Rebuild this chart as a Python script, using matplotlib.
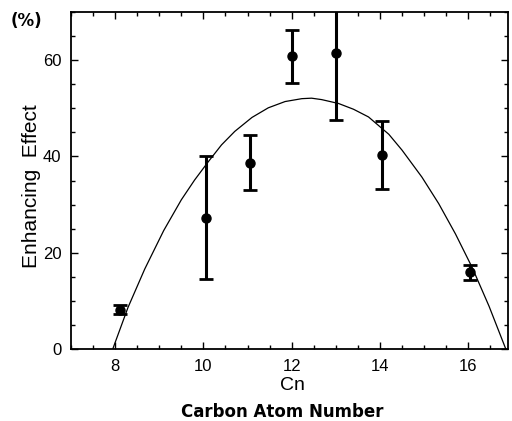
import numpy as np
import matplotlib
matplotlib.use('Agg')
import matplotlib.pyplot as plt
from matplotlib.ticker import MultipleLocator

# Pontos medidos (Cn, efeito %, erro)
carbonos = [8.1, 10.05, 11.05, 12.0, 13.0, 14.05, 16.05]
efeito = [8.2, 27.3, 38.7, 60.8, 61.4, 40.3, 15.9]
erro = [0.9, 12.7, 5.7, 5.5, 13.8, 7.0, 1.6]

# Curva ajustada
curva_x = [7.95, 8.29, 8.67, 9.1, 9.5, 9.8, 10.11, 10.41, 10.71, 11.1, 11.47, 11.85,
           12.23, 12.45, 12.68, 13.06, 13.4, 13.74, 14.2, 14.5, 14.95, 15.33,
           15.71, 16.09, 16.47, 16.85]
curva_y = [0.1, 8.6, 16.6, 24.6, 31.0, 35.1, 38.9, 42.4, 45.2, 48.1, 50.1, 51.4,
           52.0, 52.1, 51.8, 51.0, 49.8, 48.2, 44.6, 41.3, 35.7, 30.2,
           23.9, 16.9, 8.9, 0.0]

xticks = [8, 10, 12, 14, 16]
yticks = [0, 20, 40, 60]

fig = plt.figure(figsize=(5.12, 4.21), dpi=100)
ax = fig.add_axes([71/512, 72/421, 437/512, 337/421])

ax.plot(curva_x, curva_y, color='black', lw=0.9)
ax.errorbar(carbonos, efeito, yerr=erro, fmt='o', color='black', ms=6.5,
            elinewidth=2.2, capsize=5, capthick=2.0)

ax.set_xlim(7, 16.9)
ax.set_ylim(0, 70)
ax.set_xticks(xticks)
ax.set_yticks(yticks)
ax.xaxis.set_minor_locator(MultipleLocator(0.5))
ax.yaxis.set_minor_locator(MultipleLocator(5))
ax.tick_params(which='both', direction='in', top=True, right=True,
               labelsize=12, width=1.0)
ax.tick_params(which='major', length=5, pad=7)
ax.tick_params(which='minor', length=3)
for lab in ax.get_xticklabels() + ax.get_yticklabels():
    lab.set_family('Liberation Sans')
for s in ax.spines.values():
    s.set_linewidth(1.3)

fig.text(32/512, 1 - 186/421, 'Enhancing  Effect', rotation=90, ha='center',
         va='center', fontsize=15, family='Liberation Sans')
fig.text(292/512, 1 - 385/421, 'Cn', ha='center', va='center', fontsize=14,
         family='Liberation Sans')
fig.text(282/512, 1 - 412/421, 'Carbon Atom Number', ha='center', va='center',
         fontsize=12, fontweight='bold', family='DejaVu Sans')
fig.text(26/512, 1 - 21/421, '(%)', ha='center', va='center', fontsize=12,
         fontweight='bold', family='DejaVu Sans')

plt.savefig('out.png', dpi=100)
